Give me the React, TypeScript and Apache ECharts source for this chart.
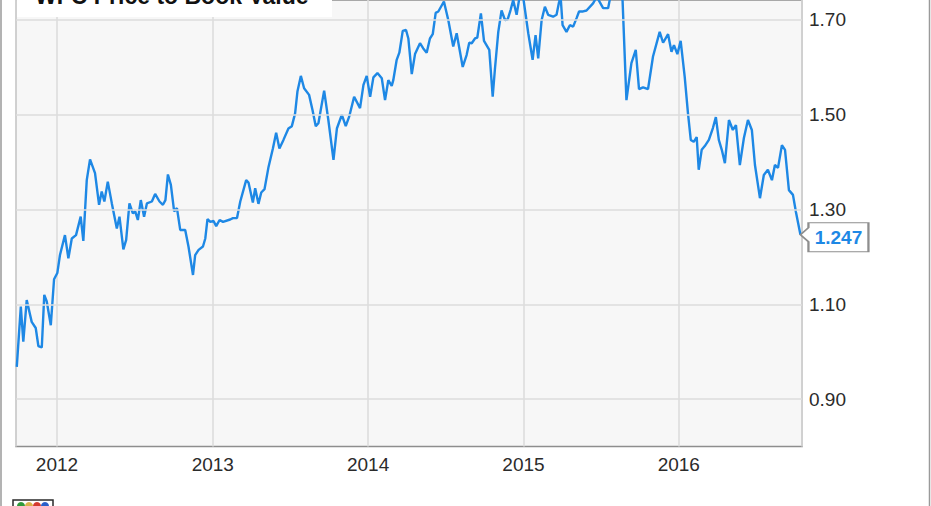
import React, { useEffect, useRef } from "react";
import * as echarts from "echarts";

// Decimal-year dates and price-to-book values
const dates: number[] = [
  2011.741, 2011.767, 2011.783, 2011.805, 2011.837, 2011.863, 2011.88, 2011.902, 2011.918, 2011.934,
  2011.96, 2011.981, 2012.002, 2012.019, 2012.051, 2012.073, 2012.095, 2012.122, 2012.152, 2012.169,
  2012.191, 2012.212, 2012.244, 2012.27, 2012.287, 2012.304, 2012.326, 2012.352, 2012.384, 2012.401,
  2012.426, 2012.444, 2012.465, 2012.487, 2012.502, 2012.519, 2012.538, 2012.559, 2012.577, 2012.609,
  2012.63, 2012.658, 2012.68, 2012.696, 2012.712, 2012.731, 2012.752, 2012.77, 2012.791, 2012.823,
  2012.844, 2012.873, 2012.887, 2012.909, 2012.937, 2012.952, 2012.966, 2012.984, 2013.005, 2013.022,
  2013.044, 2013.066, 2013.112, 2013.13, 2013.156, 2013.177, 2013.215, 2013.23, 2013.258, 2013.273,
  2013.294, 2013.312, 2013.333, 2013.359, 2013.387, 2013.408, 2013.429, 2013.455, 2013.487, 2013.509,
  2013.53, 2013.545, 2013.567, 2013.588, 2013.62, 2013.642, 2013.663, 2013.68, 2013.717, 2013.744,
  2013.777, 2013.799, 2013.831, 2013.856, 2013.878, 2013.91, 2013.948, 2013.97, 2013.991, 2014.013,
  2014.034, 2014.06, 2014.088, 2014.109, 2014.13, 2014.152, 2014.162, 2014.184, 2014.201, 2014.223,
  2014.244, 2014.259, 2014.281, 2014.302, 2014.334, 2014.355, 2014.377, 2014.398, 2014.416, 2014.435,
  2014.452, 2014.488, 2014.516, 2014.548, 2014.57, 2014.609, 2014.634, 2014.651, 2014.667, 2014.688,
  2014.703, 2014.726, 2014.746, 2014.78, 2014.802, 2014.816, 2014.838, 2014.859, 2014.881, 2014.898,
  2014.917, 2014.934, 2014.956, 2014.977, 2014.998, 2015.031, 2015.059, 2015.078, 2015.095, 2015.117,
  2015.138, 2015.159, 2015.191, 2015.213, 2015.23, 2015.238, 2015.252, 2015.277, 2015.299, 2015.32,
  2015.342, 2015.358, 2015.384, 2015.406, 2015.448, 2015.472, 2015.513, 2015.545, 2015.562, 2015.594,
  2015.638, 2015.663, 2015.695, 2015.723, 2015.744, 2015.77, 2015.802, 2015.834, 2015.877, 2015.899,
  2015.931, 2015.953, 2015.969, 2015.991, 2016.012, 2016.038, 2016.059, 2016.077, 2016.096, 2016.115,
  2016.128, 2016.147, 2016.167, 2016.193, 2016.219, 2016.238, 2016.257, 2016.276, 2016.296, 2016.322,
  2016.347, 2016.367, 2016.392, 2016.418, 2016.444, 2016.469, 2016.489, 2016.521, 2016.546, 2016.572,
  2016.598, 2016.617, 2016.637, 2016.662, 2016.682, 2016.707, 2016.733, 2016.752, 2016.781,
];

const priceToBook: number[] = [
  0.968, 1.095, 1.021, 1.109, 1.063, 1.05, 1.012, 1.009, 1.12, 1.106,
  1.056, 1.153, 1.166, 1.204, 1.246, 1.197, 1.239, 1.246, 1.285, 1.234,
  1.362, 1.406, 1.377, 1.31, 1.338, 1.317, 1.359, 1.313, 1.26, 1.285,
  1.216, 1.236, 1.313, 1.292, 1.296, 1.278, 1.32, 1.285, 1.313, 1.317,
  1.333, 1.317, 1.31, 1.32, 1.374, 1.352, 1.296, 1.303, 1.257, 1.257,
  1.222, 1.162, 1.204, 1.215, 1.222, 1.239, 1.28, 1.274, 1.276, 1.265,
  1.278, 1.274, 1.279, 1.282, 1.282, 1.317, 1.362, 1.357, 1.315, 1.345,
  1.312, 1.336, 1.343, 1.39, 1.429, 1.462, 1.429, 1.447, 1.471, 1.476,
  1.503, 1.549, 1.582, 1.556, 1.542, 1.51, 1.476, 1.482, 1.551, 1.489,
  1.405, 1.471, 1.5, 1.476, 1.496, 1.538, 1.514, 1.563, 1.582, 1.538,
  1.579, 1.588, 1.577, 1.531, 1.573, 1.561, 1.573, 1.616, 1.631, 1.677,
  1.679, 1.661, 1.586, 1.628, 1.651, 1.64, 1.631, 1.661, 1.67, 1.715,
  1.718, 1.739, 1.7, 1.644, 1.672, 1.601, 1.626, 1.652, 1.651, 1.661,
  1.663, 1.714, 1.656, 1.637, 1.538, 1.595, 1.675, 1.72, 1.7, 1.701,
  1.721, 1.742, 1.711, 1.753, 1.749, 1.672, 1.616, 1.668, 1.619, 1.7,
  1.728, 1.711, 1.707, 1.711, 1.739, 1.755, 1.689, 1.675, 1.689, 1.686,
  1.704, 1.718, 1.718, 1.72, 1.735, 1.749, 1.725, 1.725, 1.753, 1.763,
  1.742, 1.531, 1.609, 1.637, 1.554, 1.558, 1.554, 1.623, 1.675, 1.652,
  1.67, 1.633, 1.647, 1.628, 1.656, 1.58, 1.503, 1.447, 1.443, 1.453,
  1.384, 1.426, 1.434, 1.447, 1.472, 1.495, 1.447, 1.426, 1.398, 1.489,
  1.468, 1.478, 1.394, 1.451, 1.489, 1.468, 1.394, 1.324, 1.373, 1.384,
  1.362, 1.394, 1.388, 1.436, 1.426, 1.341, 1.331, 1.295, 1.247,
];

const xRange: number[] = [2011.736, 2016.791];
const yRange: number[] = [0.8, 1.7422];
const yGridValues: number[] = [0.9, 1.1, 1.3, 1.5, 1.7];
const titleText = "WFC Price to Book Value";

function yearToTs(y: number): number {
  const yr = Math.floor(y);
  const a = Date.UTC(yr, 0, 1);
  const b = Date.UTC(yr + 1, 0, 1);
  return a + (y - yr) * (b - a);
}

const FONT = "Liberation Sans, Arial, Helvetica, sans-serif";
const LINE_BLUE = "#1e88e5";

export default function App() {
  const ref = useRef<HTMLDivElement>(null);

  useEffect(() => {
    if (!ref.current) return;
    const chart = echarts.init(ref.current, null, { renderer: "svg" });
    const seriesData = dates.map((d, i) => [yearToTs(d), priceToBook[i]]);
    const last = seriesData[seriesData.length - 1];

    chart.setOption({
      animation: false,
      useUTC: true,
      backgroundColor: "#ffffff",
      grid: {
        left: 16,
        right: 129,
        top: 0,
        bottom: 59.5,
        show: true,
        backgroundColor: "#f7f7f7",
        borderColor: "#8e8e8e",
        borderWidth: 1.6,
      },
      xAxis: {
        type: "time",
        min: yearToTs(xRange[0]),
        max: yearToTs(xRange[1]),
        splitNumber: 5,
        minInterval: 365 * 24 * 3600 * 1000,
        axisLine: { show: false },
        axisTick: { show: false },
        splitLine: { show: true, lineStyle: { color: "#dcdcdc", width: 1.6 } },
        axisLabel: {
          formatter: "{yyyy}",
          color: "#2b2b2b",
          fontSize: 19,
          fontFamily: FONT,
          margin: 8,
          showMinLabel: false,
          showMaxLabel: false,
        },
      },
      yAxis: {
        type: "value",
        position: "right",
        min: yRange[0],
        max: yRange[1],
        interval: 0.1,
        axisLine: { show: false },
        axisTick: { show: false },
        splitLine: { show: false },
        axisLabel: {
          color: "#2b2b2b",
          fontSize: 19,
          fontFamily: FONT,
          margin: 7,
          showMaxLabel: false,
          formatter: (v: number) => {
            const t = Math.round(v * 10);
            return Math.abs(v * 10 - t) < 1e-6 && t % 2 === 1 ? v.toFixed(2) : "";
          },
        },
      },
      series: [
        {
          name: "grid",
          type: "line",
          data: [],
          z: 1,
          silent: true,
          markLine: {
            silent: true,
            symbol: ["none", "none"],
            label: { show: false },
            lineStyle: { color: "#dcdcdc", width: 1.6, type: "solid" },
            emphasis: { disabled: true },
            data: yGridValues.map((v) => ({ yAxis: v })),
          },
        },
        {
          name: "WFC Price to Book Value",
          type: "line",
          data: seriesData,
          z: 3,
          showSymbol: false,
          symbol: "none",
          clip: true,
          lineStyle: { color: LINE_BLUE, width: 2.4 },
          markPoint: {
            silent: true,
            symbol: "path://M0 12 L8 5 L8 0 L68 0 L68 29 L8 29 L8 19 Z",
            symbolSize: [68, 29],
            symbolKeepAspect: false,
            symbolOffset: [34, 2.5],
            itemStyle: { color: "#ffffff", borderColor: "#8e8e8e", borderWidth: 1.5 },
            label: {
              show: true,
              position: "inside",
              offset: [4, 0],
              color: LINE_BLUE,
              fontSize: 19,
              fontWeight: "bold",
              fontFamily: FONT,
              formatter: () => (last[1] as number).toFixed(3),
            },
            data: [{ coord: last, value: last[1] }],
          },
        },
      ],
      graphic: [
        {
          type: "rect",
          shape: { x: 17, y: -10, width: 315, height: 27 },
          style: { fill: "#ffffff" },
          z: 50,
        },
        {
          type: "text",
          x: 35,
          y: -4.5,
          z: 51,
          style: {
            text: titleText,
            fill: "#111111",
            font: `bold 23px ${FONT}`,
            verticalAlign: "middle",
          },
        },
        {
          type: "line",
          shape: { x1: 1, y1: 0, x2: 1, y2: 506 },
          style: { stroke: "#9a9a9a", lineWidth: 1.5 },
        },
        {
          type: "line",
          shape: { x1: 929.5, y1: 0, x2: 929.5, y2: 506 },
          style: { stroke: "#9a9a9a", lineWidth: 1.5 },
        },
        {
          type: "group",
          x: 13,
          y: 500,
          children: [
            { type: "rect", shape: { x: 0, y: 0, width: 40, height: 10 }, style: { fill: "#ffffff", stroke: "#2a2a2a", lineWidth: 1.5 } },
            { type: "circle", shape: { cx: 8, cy: 6, r: 4 }, style: { fill: "#2e9a3a" } },
            { type: "circle", shape: { cx: 16, cy: 6, r: 4 }, style: { fill: "#d9b24a" } },
            { type: "circle", shape: { cx: 24, cy: 6, r: 4 }, style: { fill: "#d43a2f" } },
            { type: "circle", shape: { cx: 32, cy: 6, r: 4 }, style: { fill: "#2a5fc9" } },
          ],
        },
      ],
    });

    return () => chart.dispose();
  }, []);

  return <div ref={ref} style={{ width: 931, height: 506, position: "absolute", left: 0, top: 0 }} />;
}
